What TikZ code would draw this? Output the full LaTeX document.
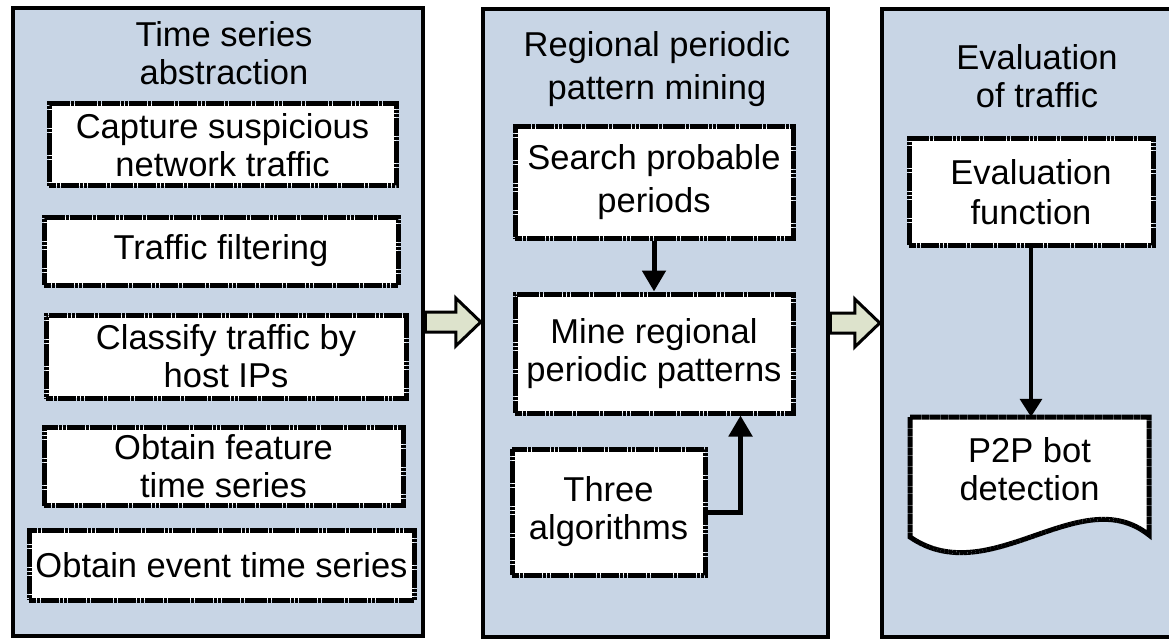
\documentclass[tikz,border=0pt]{standalone}
\usepackage{fontspec}
\setmainfont{Liberation Sans}
\usetikzlibrary{arrows.meta,calc}
\definecolor{panelblue}{RGB}{200,213,229}
\definecolor{arrowgreen}{RGB}{221,227,204}
\tikzset{
	panel/.style = {draw, line width=4.5pt, fill=panelblue, inner sep=0pt},
	stage/.style = {draw, line width=5pt, dash pattern=on 3.5pt off 0.35pt, fill=white, align=center, inner sep=2pt},
	paneltitle/.style = {align=center},
	flow/.style = {line width=5pt, -{Triangle[width=23pt,length=21pt]}},
	bigarrow/.style = {draw, line width=3pt, fill=arrowgreen, line join=miter}
}
\newcommand{\wide}{\fontsize{34.5}{43}\selectfont}

\begin{document}
\begin{tikzpicture} [x=1pt, y=-1pt, every node/.style={font=\fontsize{34.5}{38}\selectfont}]
	\useasboundingbox (0,0) rectangle (1169,639);
	\clip (0,0) rectangle (1169,639);
	
	% three stages
	\node [panel, minimum width=410pt, minimum height=628pt] (abst) at (218,322) {};
	\node [panel, minimum width=345pt, minimum height=628pt] (mining) at (655.5,323) {};
	\node [panel, minimum width=300pt, minimum height=628pt] (eval) at (1032,323) {};
	
	\node [paneltitle] (abstT) at (224,53) {Time series\\abstraction};
	\node [paneltitle, font=\wide] (miningT) at (657,69) {Regional periodic\\pattern mining};
	\node [paneltitle] (evalT) at (1037,76) {Evaluation\\of traffic};
	
	% time series abstraction
	\node [stage, minimum width=347pt, minimum height=82pt] (capture) at (222.5,145) {Capture suspicious\\network traffic};
	\node [stage, minimum width=354pt, minimum height=68pt] (filter) at (221,251) {Traffic filtering};
	\node [stage, minimum width=360pt, minimum height=83pt] (classify) at (226,356.5) {Classify traffic by\\host IPs};
	\node [stage, minimum width=359pt, minimum height=78pt] (feature) at (223.5,466) {Obtain feature\\time series};
	\node [stage, minimum width=385pt, minimum height=70pt] (event) at (221.5,565) {Obtain event time series};
	
	% regional periodic pattern mining
	\node [stage, font=\wide, minimum width=278pt, minimum height=111pt] (search) at (654,182.5) {Search probable\\periods};
	\node [stage, minimum width=278pt, minimum height=119pt] (mine) at (654,353.5) {Mine regional\\periodic patterns};
	\node [stage, minimum width=193pt, minimum height=126pt] (three) at (608.5,512) {Three\\algorithms};
	\draw [flow] (search) -- (mine);
	\draw [flow] (three.east) -| ([xshift=-55pt]mine.south east);
	
	% evaluation of traffic
	\node [stage, font=\fontsize{34.5}{40}\selectfont, minimum width=244pt, minimum height=106pt] (func) at (1031,192) {Evaluation\\function};
	\draw [stage] (910,417) -- (1149,417) -- (1149,535) .. controls (1080,480) and (990,592) .. (910,537) -- cycle;
	\node [align=center, minimum width=239pt, minimum height=104pt, inner sep=0pt] (detect) at (1029.5,469) {P2P bot\\detection};
	\draw [flow, line width=3.5pt, -{Triangle[width=22pt,length=18pt]}] (func.south) -- (func.south |- detect.north);
	
	% block arrows between stages
	\draw [bigarrow] ($(abst.east)+(0,-10)$) -- ($(mining.west |- abst.east)+(-25,-10)$) -- ++(0,-14) -- (mining.west |- abst.east) -- ++(-25,24) -- ++(0,-14) -- ($(abst.east)+(0,10)$) -- cycle;
	\draw [bigarrow] ($(mining.east)+(0,-10)$) -- ($(eval.west |- mining.east)+(-25,-10)$) -- ++(0,-14) -- (eval.west |- mining.east) -- ++(-25,24) -- ++(0,-14) -- ($(mining.east)+(0,10)$) -- cycle;
\end{tikzpicture}
\end{document}
